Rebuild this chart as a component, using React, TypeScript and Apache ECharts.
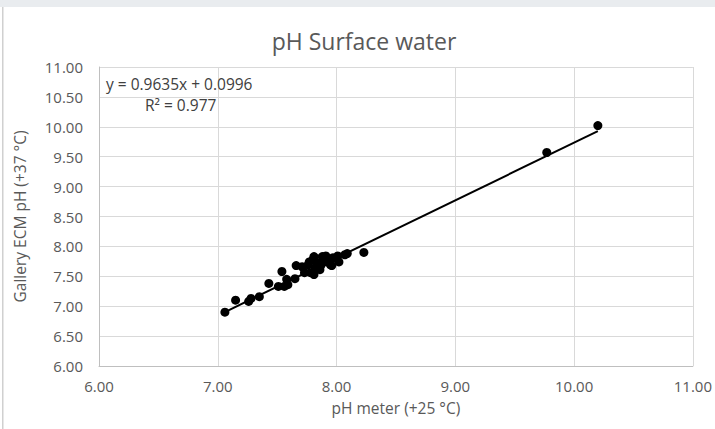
import React, { useEffect, useRef } from "react";
import * as echarts from "echarts";

const chartTitle = "pH Surface water";
const xAxisName = "pH meter (+25 °C)";
const yAxisName = "Gallery ECM pH (+37 °C)";

// pH meter (+25 °C) readings
const phMeter = [
  7.06, 7.15, 7.26, 7.28, 7.35, 7.43, 7.51, 7.54, 7.56, 7.59, 7.58, 7.65, 7.66,
  7.71, 7.73, 7.76, 7.78, 7.80, 7.81, 7.84, 7.86, 7.88, 7.91, 7.92, 7.95, 7.97,
  8.01, 8.02, 8.07, 8.09, 7.82, 7.87, 7.96, 7.77, 7.81, 8.23, 9.77, 10.2,
];
// Gallery ECM pH (+37 °C) readings
const galleryPh = [
  6.90, 7.10, 7.08, 7.13, 7.16, 7.38, 7.33, 7.58, 7.33, 7.36, 7.45, 7.46, 7.68,
  7.66, 7.56, 7.69, 7.56, 7.78, 7.53, 7.73, 7.61, 7.83, 7.84, 7.74, 7.69, 7.81,
  7.84, 7.74, 7.86, 7.88, 7.64, 7.69, 7.68, 7.74, 7.83, 7.90, 9.57, 10.02,
];

// linear trendline coefficients (as printed on the chart)
const slope = 0.9635;
const intercept = 0.0996;
const rSquared = "0.977";

const xTicks = { min: 6, max: 11, interval: 1 };
const yTicks = { min: 6, max: 11, interval: 0.5 };

export default function App() {
  const ref = useRef<HTMLDivElement>(null);

  useEffect(() => {
    if (!ref.current) return;
    const chart = echarts.init(ref.current, undefined, { renderer: "svg" });
    const points = phMeter.map((x, i) => [x, galleryPh[i]]);
    const xMin = Math.min(...phMeter);
    const xMax = Math.max(...phMeter);
    const trend = [
      [xMin, slope * xMin + intercept],
      [xMax, slope * xMax + intercept],
    ];
    const font = "'Open Sans', 'Noto Sans', sans-serif";
    chart.setOption({
      animation: false,
      backgroundColor: "#ffffff",
      textStyle: { fontFamily: font },
      grid: { left: 99, right: 17, top: 67, bottom: 63 },
      xAxis: {
        type: "value",
        min: xTicks.min,
        max: xTicks.max,
        interval: xTicks.interval,
        name: xAxisName,
        nameLocation: "middle",
        nameGap: 34,
        nameTextStyle: { color: "#595959", fontSize: 15.5, fontFamily: font },
        axisLine: { show: true, lineStyle: { color: "#bfbfbf", width: 1 } },
        axisTick: { show: false },
        axisLabel: {
          color: "#595959",
          fontSize: 15,
          fontFamily: font,
          margin: 12,
          formatter: (v: number) => v.toFixed(2),
        },
        splitLine: { show: true, lineStyle: { color: "#d9d9d9", width: 1 } },
      },
      yAxis: {
        type: "value",
        min: yTicks.min,
        max: yTicks.max,
        interval: yTicks.interval,
        name: yAxisName,
        nameLocation: "middle",
        nameGap: 71,
        nameTextStyle: { color: "#595959", fontSize: 15.5, fontFamily: font },
        axisLine: { show: true, lineStyle: { color: "#bfbfbf", width: 1 } },
        axisTick: { show: false },
        axisLabel: {
          color: "#595959",
          fontSize: 15,
          fontFamily: font,
          margin: 16,
          formatter: (v: number) => v.toFixed(2),
        },
        splitLine: { show: true, lineStyle: { color: "#d9d9d9", width: 1 } },
      },
      series: [
        {
          type: "scatter",
          data: points,
          symbol: "circle",
          symbolSize: 9,
          itemStyle: { color: "#000000", opacity: 1 },
          z: 3,
        },
        {
          type: "line",
          data: trend,
          symbol: "none",
          lineStyle: { color: "#000000", width: 2 },
          z: 4,
        },
      ],
      graphic: [
        {
          type: "rect",
          shape: { x: 0, y: 0, width: 715, height: 7 },
          style: { fill: "#e9ecef" },
          silent: true,
        },
        {
          type: "rect",
          shape: { x: 2, y: 7, width: 1.5, height: 422 },
          style: { fill: "#d0d0d0" },
          silent: true,
        },
        {
          type: "text",
          x: 364,
          y: 41,
          style: {
            text: chartTitle,
            fill: "#595959",
            font: `23px ${font}`,
            textAlign: "center",
            textVerticalAlign: "middle",
          },
        },
        {
          type: "text",
          x: 106,
          y: 84,
          z: 11,
          style: {
            text: `y = ${slope}x + ${intercept}`,
            fill: "#404040",
            font: `15.5px ${font}`,
            textAlign: "left",
            textVerticalAlign: "middle",
          },
        },
        {
          type: "text",
          x: 145,
          y: 105,
          z: 11,
          style: {
            text: `R² = ${rSquared}`,
            fill: "#404040",
            font: `15.5px ${font}`,
            textAlign: "left",
            textVerticalAlign: "middle",
          },
        },
      ],
    });
    return () => chart.dispose();
  }, []);

  return (
    <div
      ref={ref}
      style={{ position: "fixed", left: 0, top: 0, width: 715, height: 429 }}
    />
  );
}
